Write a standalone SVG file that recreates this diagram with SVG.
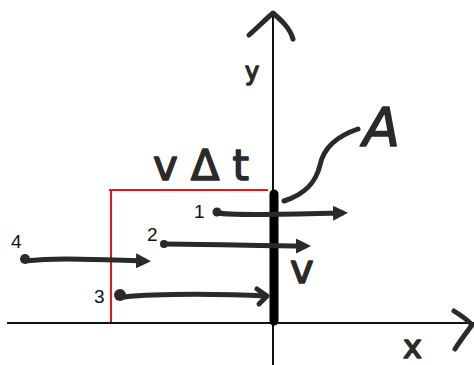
<svg xmlns="http://www.w3.org/2000/svg" width="474" height="365" viewBox="0 0 474 365">
<style>
.ax{stroke:#111;stroke-width:2;fill:none}
.ink{stroke:#2a2a2a;stroke-width:5;fill:none;stroke-linecap:round;stroke-linejoin:round}
.red{stroke:#ee1111;stroke-width:2;fill:none}
.num{font-family:"Liberation Sans",Arial,sans-serif;font-size:19px;fill:#111}
.hand{font-family:"DejaVu Sans","Liberation Sans",sans-serif;fill:#2a2a2a;stroke:#2a2a2a;stroke-width:1.5;stroke-linejoin:round}
</style>
<defs>
<marker id="head" viewBox="0 0 10 10" refX="6" refY="5" markerWidth="3" markerHeight="3" orient="auto" markerUnits="strokeWidth">
<path d="M0,0 L10,5 L0,10 z" fill="#2a2a2a"/>
</marker>
</defs>
<rect width="474" height="365" fill="#fff"/>
<g id="axes">
<line class="ax" x1="273" y1="14" x2="273" y2="365"/>
<line class="ax" x1="7" y1="323" x2="474" y2="323"/>
<path class="ink" d="M249,35 C258,27 266,19 273,13 C281,20 290,28 293,39"/>
<path class="ink" d="M454,311 C462,316 468,320 472,325 C466,333 460,341 455,349"/>
</g>
<g id="region">
<path class="red" d="M109,190 L268,190 M111,190 L111,322"/>
</g>
<g id="area-A">
<line x1="274" y1="194" x2="274" y2="321" stroke="#000" stroke-width="9" stroke-linecap="round"/>
<path class="ink" d="M284,201 C306,194 316,182 320,165 C324,146 340,135 358,129"/>
</g>
<g id="connectors">
<path class="ink" d="M218,213 C232,216 300,214 342,213" marker-end="url(#head)"/>
<path class="ink" d="M165,244 C200,244 270,246 305,246" marker-end="url(#head)"/>
<path class="ink" d="M25,261 C60,257 100,260 145,261" marker-end="url(#head)"/>
<path class="ink" d="M124,297 C160,293 230,294 266,296"/>
<path class="ink" d="M257,289 L267,296 L259,304"/>
</g>
<g id="p1"><circle cx="217" cy="212" r="4.5" fill="#2a2a2a"/><text class="num" x="194" y="218">1</text></g>
<g id="p2"><circle cx="164" cy="244" r="4" fill="#2a2a2a"/><text class="num" x="147" y="241">2</text></g>
<g id="p3"><circle cx="120" cy="295" r="6" fill="#2a2a2a"/><text class="num" x="94" y="303">3</text></g>
<g id="p4"><circle cx="25" cy="259" r="5" fill="#2a2a2a"/><text class="num" x="11" y="248">4</text></g>
<g id="labels">
<text class="hand" x="245" y="80" font-size="24">y</text>
<text class="hand" x="363" y="146" font-size="54" font-style="italic">A</text>
<text class="hand" x="153" y="180" font-size="42" letter-spacing="13">vΔt</text>
<text class="hand" x="290" y="283" font-size="40">v</text>
<text class="hand" x="403" y="358" font-size="32">x</text>
</g>
</svg>
